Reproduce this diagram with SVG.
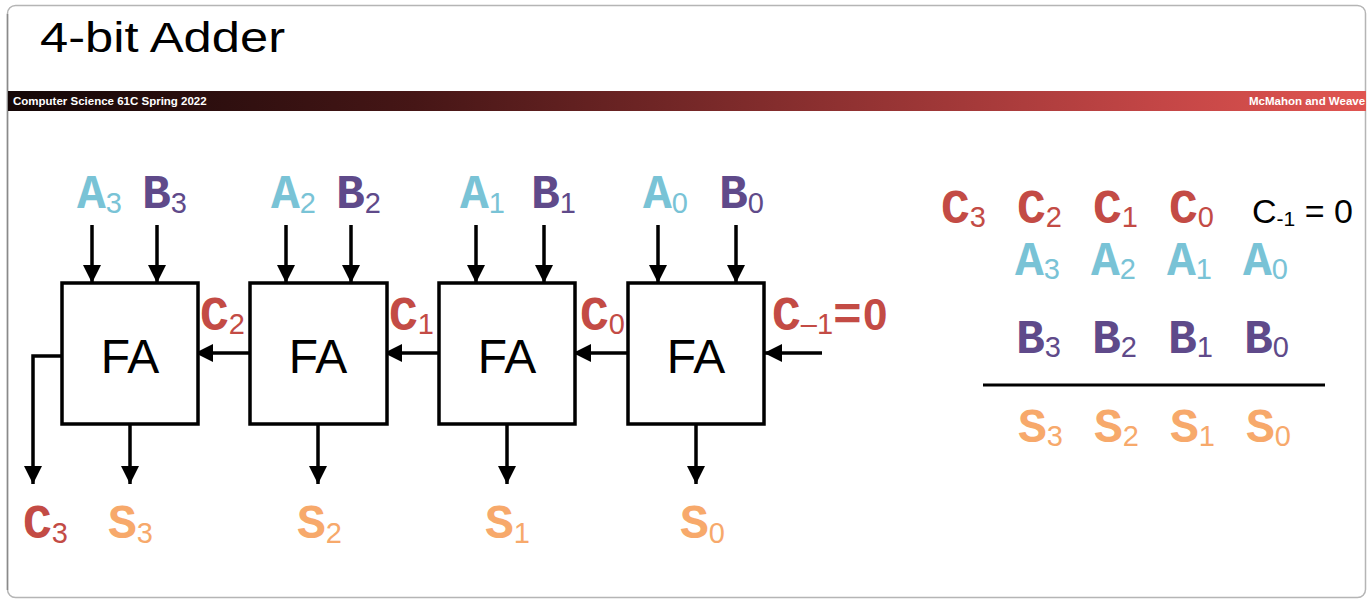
<svg xmlns="http://www.w3.org/2000/svg" width="1367" height="600" viewBox="0 0 1367 600">
<defs>
<linearGradient id="band" x1="0" y1="0" x2="1" y2="0">
<stop offset="0" stop-color="#140707"/>
<stop offset="0.3" stop-color="#461616"/>
<stop offset="0.6" stop-color="#8c3030"/>
<stop offset="0.85" stop-color="#c44646"/>
<stop offset="1" stop-color="#e05551"/>
</linearGradient>
<marker id="ah" markerUnits="userSpaceOnUse" markerWidth="18" markerHeight="18" refX="18" refY="9" orient="auto" viewBox="0 0 18 18">
<path d="M0,0 L18,9 L0,18 z" fill="#000"/>
</marker>
<clipPath id="slideclip"><rect x="7" y="5" width="1359" height="593" rx="8"/></clipPath>
</defs>
<style>
.m{font-family:"Liberation Mono","Courier New",monospace;font-weight:bold;font-size:48px}
.s{font-family:"Liberation Sans",Arial,sans-serif;font-size:29px}
.a{fill:#79c3d6}
.b{fill:#5f4a8a}
.c{fill:#c34b45}
.o{fill:#f7a96b}
.box{fill:#fff;stroke:#000;stroke-width:3.5}
.fa{font-family:"Liberation Sans",Arial,sans-serif;font-size:48px;fill:#000;text-anchor:middle}
.w{fill:none;stroke:#000;stroke-width:3.5;marker-end:url(#ah)}
</style>
<rect x="0" y="0" width="1367" height="600" fill="#fff"/>
<rect x="7.5" y="5.5" width="1358" height="592" rx="8" fill="#fff" stroke="#b5b5b5" stroke-width="1.5"/>
<line x1="7.5" y1="14" x2="7.5" y2="590" stroke="#8a8a8a" stroke-width="1.5"/>
<text x="40" y="52" font-family="Liberation Sans, Arial, sans-serif" font-size="43" fill="#000" textLength="245" lengthAdjust="spacingAndGlyphs">4-bit Adder</text>
<g clip-path="url(#slideclip)">
<rect x="8" y="91" width="1359" height="20" fill="url(#band)"/>
<text x="13" y="105" font-family="Liberation Sans, Arial, sans-serif" font-size="11.5" font-weight="bold" fill="#fff">Computer Science 61C Spring 2022</text>
<text x="1249" y="105" font-family="Liberation Sans, Arial, sans-serif" font-size="11.5" font-weight="bold" fill="#fff">McMahon and Weave</text>
</g>

<g id="connectors">
<path class="w" d="M92,225 V283"/>
<path class="w" d="M157,225 V283"/>
<path class="w" d="M286,225 V283"/>
<path class="w" d="M351,225 V283"/>
<path class="w" d="M476,225 V283"/>
<path class="w" d="M544,225 V283"/>
<path class="w" d="M658,225 V283"/>
<path class="w" d="M736,225 V283"/>
<path class="w" d="M250,353 H195"/>
<path class="w" d="M439,353 H384"/>
<path class="w" d="M628,353 H573"/>
<path class="w" d="M822,353 H764"/>
<path class="w" d="M62,356 H33 V484"/>
<path class="w" d="M130,424 V484"/>
<path class="w" d="M318,424 V484"/>
<path class="w" d="M507,424 V484"/>
<path class="w" d="M696,424 V484"/>
</g>

<g id="fa3"><rect class="box" x="62" y="283" width="136" height="141"/><text class="fa" x="130" y="373">FA</text></g>
<g id="fa2"><rect class="box" x="250" y="283" width="137" height="141"/><text class="fa" x="318" y="373">FA</text></g>
<g id="fa1"><rect class="box" x="439" y="283" width="136" height="141"/><text class="fa" x="507" y="373">FA</text></g>
<g id="fa0"><rect class="box" x="628" y="283" width="136" height="141"/><text class="fa" x="696" y="373">FA</text></g>

<g id="inputs">
<text x="77" y="208" class="a"><tspan class="m">A</tspan><tspan class="s" dy="5">3</tspan></text>
<text x="142" y="208" class="b"><tspan class="m">B</tspan><tspan class="s" dy="5">3</tspan></text>
<text x="271" y="208" class="a"><tspan class="m">A</tspan><tspan class="s" dy="5">2</tspan></text>
<text x="336" y="208" class="b"><tspan class="m">B</tspan><tspan class="s" dy="5">2</tspan></text>
<text x="460" y="208" class="a"><tspan class="m">A</tspan><tspan class="s" dy="5">1</tspan></text>
<text x="531" y="208" class="b"><tspan class="m">B</tspan><tspan class="s" dy="5">1</tspan></text>
<text x="643" y="208" class="a"><tspan class="m">A</tspan><tspan class="s" dy="5">0</tspan></text>
<text x="719" y="208" class="b"><tspan class="m">B</tspan><tspan class="s" dy="5">0</tspan></text>
</g>

<g id="carries">
<text x="200" y="330" class="c"><tspan class="m">C</tspan><tspan class="s" dy="4">2</tspan></text>
<text x="389" y="330" class="c"><tspan class="m">C</tspan><tspan class="s" dy="4">1</tspan></text>
<text x="580" y="330" class="c"><tspan class="m">C</tspan><tspan class="s" dy="4">0</tspan></text>
<text x="772" y="330" class="c"><tspan class="m">C</tspan><tspan class="s" dy="4">–1</tspan><tspan class="m" dy="-4">=</tspan><tspan dx="1" font-family="Liberation Sans, Arial, sans-serif" font-weight="bold" font-size="44">0</tspan></text>
</g>

<g id="outputs">
<text x="23" y="538" class="c"><tspan class="m">C</tspan><tspan class="s" dy="5">3</tspan></text>
<text x="108" y="538" class="o"><tspan class="m">S</tspan><tspan class="s" dy="5">3</tspan></text>
<text x="297" y="538" class="o"><tspan class="m">S</tspan><tspan class="s" dy="5">2</tspan></text>
<text x="485" y="538" class="o"><tspan class="m">S</tspan><tspan class="s" dy="5">1</tspan></text>
<text x="680" y="538" class="o"><tspan class="m">S</tspan><tspan class="s" dy="5">0</tspan></text>
</g>

<g id="sum-table">
<text x="941" y="223" class="c"><tspan class="m">C</tspan><tspan class="s" dy="4">3</tspan></text>
<text x="1017" y="223" class="c"><tspan class="m">C</tspan><tspan class="s" dy="4">2</tspan></text>
<text x="1093" y="223" class="c"><tspan class="m">C</tspan><tspan class="s" dy="4">1</tspan></text>
<text x="1169" y="223" class="c"><tspan class="m">C</tspan><tspan class="s" dy="4">0</tspan></text>
<text x="1252" y="223" font-family="Liberation Sans, Arial, sans-serif" font-size="34" fill="#000">C<tspan font-size="21" dy="3">-1</tspan><tspan dy="-3"> = 0</tspan></text>
<text x="1015" y="275" class="a"><tspan class="m">A</tspan><tspan class="s" dy="4">3</tspan></text>
<text x="1091" y="275" class="a"><tspan class="m">A</tspan><tspan class="s" dy="4">2</tspan></text>
<text x="1167" y="275" class="a"><tspan class="m">A</tspan><tspan class="s" dy="4">1</tspan></text>
<text x="1243" y="275" class="a"><tspan class="m">A</tspan><tspan class="s" dy="4">0</tspan></text>
<text x="1016" y="353" class="b"><tspan class="m">B</tspan><tspan class="s" dy="4">3</tspan></text>
<text x="1092" y="353" class="b"><tspan class="m">B</tspan><tspan class="s" dy="4">2</tspan></text>
<text x="1168" y="353" class="b"><tspan class="m">B</tspan><tspan class="s" dy="4">1</tspan></text>
<text x="1244" y="353" class="b"><tspan class="m">B</tspan><tspan class="s" dy="4">0</tspan></text>
<line x1="983" y1="385" x2="1325" y2="385" stroke="#000" stroke-width="3"/>
<text x="1018" y="442" class="o"><tspan class="m">S</tspan><tspan class="s" dy="4">3</tspan></text>
<text x="1094" y="442" class="o"><tspan class="m">S</tspan><tspan class="s" dy="4">2</tspan></text>
<text x="1170" y="442" class="o"><tspan class="m">S</tspan><tspan class="s" dy="4">1</tspan></text>
<text x="1246" y="442" class="o"><tspan class="m">S</tspan><tspan class="s" dy="4">0</tspan></text>
</g>
</svg>
